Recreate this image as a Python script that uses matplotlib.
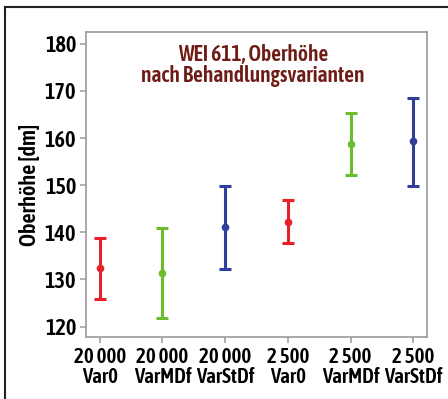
import matplotlib
matplotlib.use("Agg")
import matplotlib.pyplot as plt
from matplotlib.lines import Line2D

groups = ["20 000\nVar0", "20 000\nVarMDf", "20 000\nVarStDf", "2 500\nVar0", "2 500\nVarMDf", "2 500\nVarStDf"]
means = [132.4, 131.3, 141.1, 142.3, 158.7, 159.3]
upper = [138.7, 140.9, 149.8, 146.8, 165.4, 168.5]
lower = [125.9, 121.8, 132.3, 137.7, 152.1, 149.8]
colors = ["#e8202a", "#6cbd2e", "#2f3f98", "#e8202a", "#6cbd2e", "#2f3f98"]
yticks = [120, 130, 140, 150, 160, 170, 180]

plt.rcParams['font.family'] = ['Asap Condensed', 'DejaVu Sans']

fig = plt.figure(figsize=(4.48, 3.99), dpi=100)
ax = fig.add_axes([86/448, 1 - 337/399, (427-86)/448, (337-32)/399])

for i, (m, u, l, c) in enumerate(zip(means, upper, lower, colors)):
    ax.errorbar([i], [m], yerr=[[m - l], [u - m]], fmt='o', color=c, ecolor=c,
                elinewidth=2.2, capsize=4, capthick=2.2, markersize=4.5)

ax.set_xlim(-0.22, 5.22)
ax.set_ylim(117.8, 182.5)
ax.set_yticks(yticks)
ax.set_xticks(range(len(groups)))
ax.set_xticklabels(groups, fontsize=15, fontweight='semibold', linespacing=1.0)
ax.set_yticklabels([str(v) for v in yticks], fontsize=16, fontweight='semibold')
ax.tick_params(axis='both', direction='out', length=4, width=1.2, color='#a0a0a0', pad=3)
for s in ax.spines.values():
    s.set_color('#a0a0a0')
    s.set_linewidth(1.3)
ax.set_ylabel("Oberhöhe [dm]", fontsize=16, fontweight='semibold', labelpad=3)

ax.text(0.49, 0.96, "WEI 611, Oberhöhe\nnach Behandlungsvarianten", transform=ax.transAxes,
        ha='center', va='top', fontsize=15.5, fontweight='semibold', color='#6e1c16', linespacing=0.95)

# outer frame (top and left lines)
fig.add_artist(Line2D([5/448, 1.0], [1 - 7/399, 1 - 7/399], color='#222222', lw=1.5, transform=fig.transFigure))
fig.add_artist(Line2D([5/448, 5/448], [0, 1 - 7/399], color='#222222', lw=1.5, transform=fig.transFigure))

fig.savefig("out.png", dpi=100)
